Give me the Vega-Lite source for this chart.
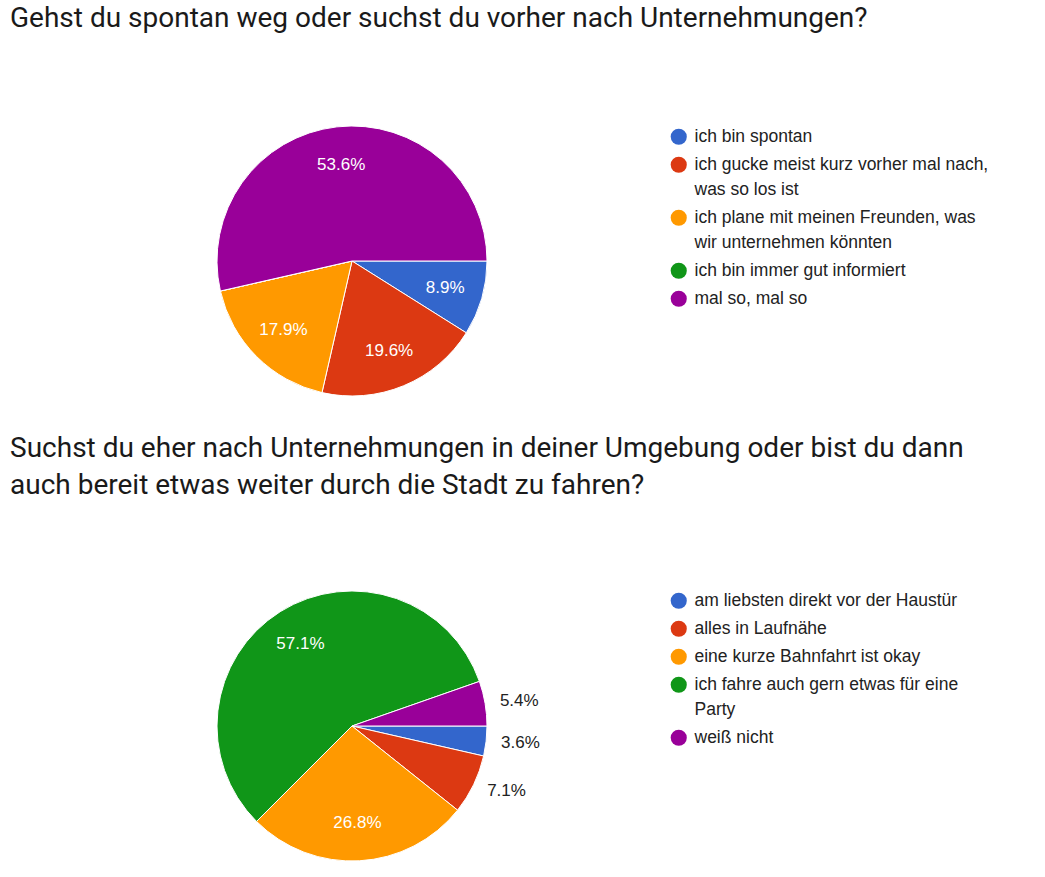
{
  "$schema": "https://vega.github.io/schema/vega-lite/v6.json",
  "padding": {"left": 10, "top": 5, "right": 5, "bottom": 5},
  "background": "white",
  "config": {
    "view": {"stroke": null},
    "concat": {"spacing": 37},
    "style": {"guide-label": {"lineHeight": 25}},
    "legend": {
      "labelFont": "Liberation Sans",
      "labelFontSize": 17.5,
      "labelColor": "#222222",
      "labelLimit": 400,
      "labelOffset": 7,
      "symbolSize": 260,
      "symbolType": "circle",
      "symbolStrokeWidth": 0,
      "rowPadding": 9,
      "orient": "none",
      "legendX": 453,
      "title": null
    },
    "title": {
      "font": "Roboto",
      "fontSize": 28,
      "fontWeight": "normal",
      "color": "#1a1a1a",
      "anchor": "start",
      "frame": "group",
      "dx": -207,
      "baseline": "bottom",
      "lineHeight": 37
    }
  },
  "resolve": {"scale": {"color": "independent", "theta": "independent"}, "legend": {"color": "independent"}},
  "vconcat": [
    {
      "width": 270,
      "height": 270,
      "title": {"text": "Gehst du spontan weg oder suchst du vorher nach Unternehmungen?", "offset": 91},
      "data": {"values": [
        {"idx": 1, "answer": "ich bin spontan", "count": 5, "share": 0.0893},
        {"idx": 2, "answer": "ich gucke meist kurz vorher mal nach, was so los ist", "count": 11, "share": 0.1964},
        {"idx": 3, "answer": "ich plane mit meinen Freunden, was wir unternehmen könnten", "count": 10, "share": 0.1786},
        {"idx": 4, "answer": "ich bin immer gut informiert", "count": 0, "share": 0},
        {"idx": 5, "answer": "mal so, mal so", "count": 30, "share": 0.5357}
      ]},
      "layer": [
        {
          "mark": {"type": "arc", "radius": 135, "stroke": "white", "strokeWidth": 1},
          "encoding": {
            "theta": {"field": "share", "type": "quantitative", "stack": true, "scale": {"range": [1.5708, 7.854]}},
            "order": {"field": "idx", "type": "quantitative"},
            "color": {
              "field": "answer", "type": "nominal",
              "scale": {
                "domain": ["ich bin spontan", "ich gucke meist kurz vorher mal nach, was so los ist", "ich plane mit meinen Freunden, was wir unternehmen könnten", "ich bin immer gut informiert", "mal so, mal so"],
                "range": ["#3366cc", "#dc3912", "#ff9900", "#109618", "#990099"]
              },
              "legend": {
                "legendY": 2,
                "labelExpr": "datum.label == 'ich gucke meist kurz vorher mal nach, was so los ist' ? ['ich gucke meist kurz vorher mal nach,', 'was so los ist'] : datum.label == 'ich plane mit meinen Freunden, was wir unternehmen könnten' ? ['ich plane mit meinen Freunden, was', 'wir unternehmen könnten'] : datum.label"
              }
            }
          }
        },
        {
          "mark": {"type": "text", "radius": 97, "font": "Liberation Sans", "fontSize": 17, "fill": "white", "align": "center", "baseline": "middle"},
          "encoding": {
            "theta": {"field": "share", "type": "quantitative", "stack": true},
            "order": {"field": "idx", "type": "quantitative"},
            "text": {"field": "share", "type": "quantitative", "format": ".1%"},
            "opacity": {"condition": {"test": "datum.share >= 0.08", "value": 1}, "value": 0}
          }
        }
      ]
    },
    {
      "width": 270,
      "height": 270,
      "title": {"text": ["Suchst du eher nach Unternehmungen in deiner Umgebung oder bist du dann", "auch bereit etwas weiter durch die Stadt zu fahren?"], "offset": 89},
      "data": {"values": [
        {"idx": 1, "answer": "am liebsten direkt vor der Haustür", "count": 2, "share": 0.0357},
        {"idx": 2, "answer": "alles in Laufnähe", "count": 4, "share": 0.0714},
        {"idx": 3, "answer": "eine kurze Bahnfahrt ist okay", "count": 15, "share": 0.2679},
        {"idx": 4, "answer": "ich fahre auch gern etwas für eine Party", "count": 32, "share": 0.5714},
        {"idx": 5, "answer": "weiß nicht", "count": 3, "share": 0.0536}
      ]},
      "layer": [
        {
          "mark": {"type": "arc", "radius": 135, "stroke": "white", "strokeWidth": 1},
          "encoding": {
            "theta": {"field": "share", "type": "quantitative", "stack": true, "scale": {"range": [1.5708, 7.854]}},
            "order": {"field": "idx", "type": "quantitative"},
            "color": {
              "field": "answer", "type": "nominal",
              "scale": {
                "domain": ["am liebsten direkt vor der Haustür", "alles in Laufnähe", "eine kurze Bahnfahrt ist okay", "ich fahre auch gern etwas für eine Party", "weiß nicht"],
                "range": ["#3366cc", "#dc3912", "#ff9900", "#109618", "#990099"]
              },
              "legend": {
                "legendY": 1,
                "labelExpr": "datum.label == 'ich fahre auch gern etwas für eine Party' ? ['ich fahre auch gern etwas für eine', 'Party'] : datum.label"
              }
            }
          }
        },
        {
          "mark": {"type": "text", "radius": 97, "font": "Liberation Sans", "fontSize": 17, "fill": "white", "align": "center", "baseline": "middle"},
          "encoding": {
            "theta": {"field": "share", "type": "quantitative", "stack": true},
            "order": {"field": "idx", "type": "quantitative"},
            "text": {"field": "share", "type": "quantitative", "format": ".1%"},
            "opacity": {"condition": {"test": "datum.share >= 0.08", "value": 1}, "value": 0}
          }
        },
        {
          "mark": {"type": "text", "radius": 150, "font": "Liberation Sans", "fontSize": 17, "fill": "#222222", "align": "left", "baseline": "middle"},
          "encoding": {
            "theta": {"field": "share", "type": "quantitative", "stack": true},
            "order": {"field": "idx", "type": "quantitative"},
            "text": {"field": "share", "type": "quantitative", "format": ".1%"},
            "opacity": {"condition": {"test": "datum.share < 0.08", "value": 1}, "value": 0}
          }
        }
      ]
    }
  ]
}
